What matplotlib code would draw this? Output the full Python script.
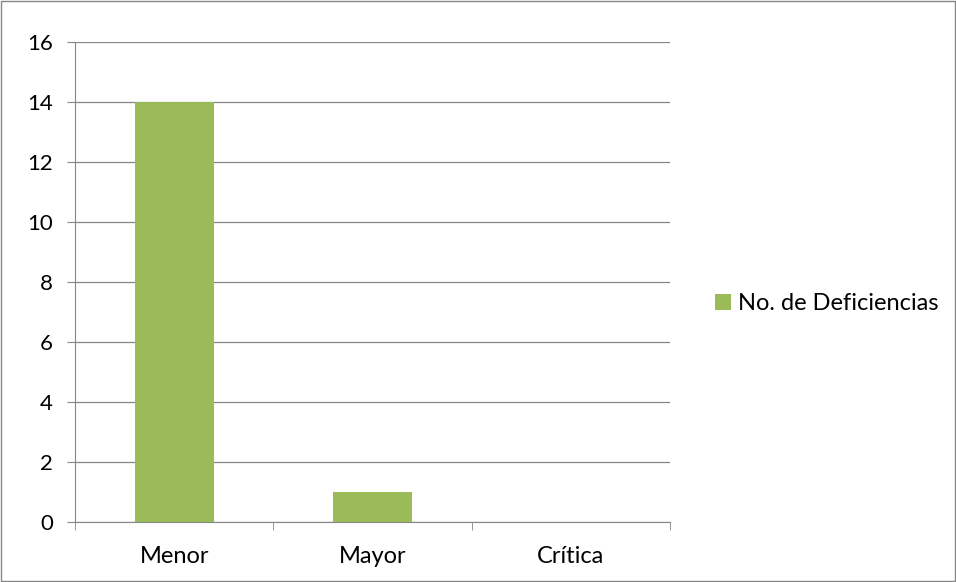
import matplotlib.pyplot as plt
import numpy as np

categories = ["Menor", "Mayor", "Crítica"]
values = [14, 1, 0]
series_name = "No. de Deficiencias"

plt.rcParams["font.family"] = ["Lato", "DejaVu Sans"]

fig = plt.figure(figsize=(9.56, 5.82), dpi=100)
ax = fig.add_axes([75 / 956, 60 / 582, 595 / 956, 480 / 582])

x = np.arange(len(categories))
ax.bar(x, values, width=0.4, color="#9BBB59", label=series_name, zorder=3)

ax.set_xlim(-0.5, len(categories) - 0.5)
ax.set_ylim(0, 16)
ax.set_yticks(range(0, 17, 2))
ax.set_xticks(x)
ax.set_xticklabels(categories)
ax.set_xticks(np.arange(-0.5, len(categories), 1), minor=True)
ax.tick_params(axis="x", which="major", length=0, pad=17, labelsize=17)
ax.tick_params(axis="x", which="minor", length=6, color="#868686")
ax.tick_params(axis="y", length=6, color="#868686", labelsize=16, pad=10)

ax.grid(axis="y", color="#868686", linewidth=0.9, zorder=0)
for side in ["top", "right"]:
    ax.spines[side].set_visible(False)
for side in ["left", "bottom"]:
    ax.spines[side].set_color("#868686")

ax.legend(loc="center left", bbox_to_anchor=(1.059, 0.455), frameon=False,
          fontsize=17, handlelength=0.7, handleheight=0.7, handletextpad=0.3,
          borderaxespad=0)

fig.patches.append(plt.Rectangle((0.001, 0.001), 0.998, 0.998, transform=fig.transFigure,
                                 fill=False, edgecolor="#868686", linewidth=1))

fig.savefig("out.png", dpi=100)
